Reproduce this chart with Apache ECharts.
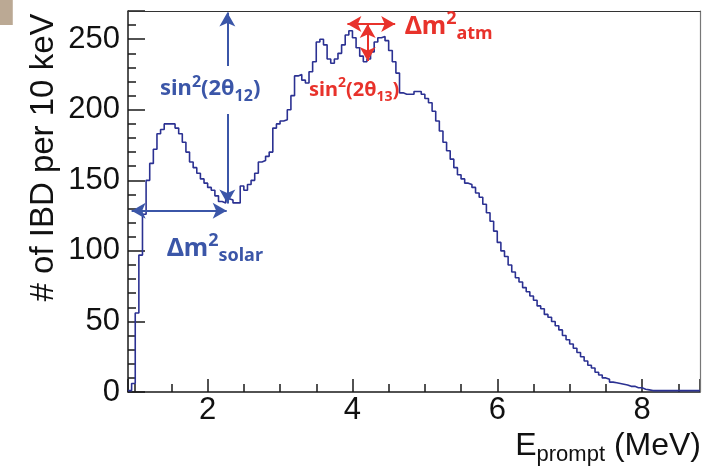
<!DOCTYPE html>
<html lang="en">
<head>
  <meta charset="UTF-8">
  <title>IBD prompt spectrum</title>
  <script src="https://cdn.jsdelivr.net/npm/echarts@6/dist/echarts.min.js"></script>
  <style>
    html, body { margin: 0; padding: 0; background: #fff; }
    .layer { position: absolute; left: 0; top: 0; width: 705px; height: 466px; }
  </style>
</head>
<body>
<div id="axes" class="layer"></div>
<div id="main" class="layer"></div>
<script>
  // histogram, 0.05 MeV bins from 0.9 MeV
  const binStart = 0.9;
  const binWidth = 0.05;
  const counts = [
    1, 6, 56, 97, 126, 150, 162, 172, 183, 186,
    190, 190, 190, 187, 183, 177, 170, 163, 159, 155,
    151, 148, 145, 143, 139, 135, 134, 137, 136, 134,
    134, 146, 143, 147, 150, 155, 163, 164, 167, 170,
    187, 190, 192, 193, 200, 210, 224, 225, 221, 219,
    227, 234, 248, 250, 246, 236, 233, 236, 240, 246,
    253, 256, 251, 244, 238, 234, 236, 241, 248, 251,
    252, 249, 242, 234, 226, 212, 211, 211, 211, 213,
    213, 211, 208, 205, 199, 192, 185, 177, 171, 165,
    159, 154, 151, 148, 147, 145, 141, 138, 133, 127,
    121, 114, 106, 100, 96, 90, 85, 81, 78, 74,
    71, 68, 65, 61, 59, 55, 53, 50, 47, 44,
    40, 37, 34, 31, 28, 25, 22, 19, 17, 14,
    12, 10, 9, 7, 6.5, 6, 5.5, 5, 4, 4,
    3, 3, 2, 1.5, 1, 1, 1, 1, 1, 1,
    1, 1, 1, 1, 1, 1, 1, 1
  ];
  const xRange = [0.9, 8.8];
  const yRange = [0, 270];

  // annotation arrows, in data units
  const solarVert = { x: 2.272, top: 269, gapTop: 231, gapBottom: 197, bottom: 133.5 };
  const solarHoriz = { y: 128.5, from: 0.95, to: 2.263 };
  const atmHoriz = { y: 260.8, from: 3.93, to: 4.59 };
  const atmVert = { x: 4.21, top: 260.8, bottom: 234.5 };

  const BLUE = '#3b56a8';
  const RED = '#e8322b';
  const CURVE = '#2b3192';
  const AXIS = '#1a1a1a';

  const gridBox = { left: 128, right: 5, top: 11, bottom: 74, outerBoundsMode: 'none' };

  const histData = counts.map((v, i) => [binStart + i * binWidth, v]);
  histData.push([binStart + counts.length * binWidth, counts[counts.length - 1]]);

  // ---- layer 1: axes, ticks and tick labels ----
  const axesChart = echarts.init(document.getElementById('axes'));
  axesChart.setOption({
    animation: false,
    grid: gridBox,
    xAxis: {
      type: 'value',
      min: xRange[0],
      max: xRange[1],
      splitNumber: 4,
      axisLine: { show: true, onZero: false, lineStyle: { color: AXIS, width: 1.5 } },
      axisTick: { show: true, inside: true, length: 13, lineStyle: { color: AXIS, width: 1.5 } },
      minorTick: { show: true, splitNumber: 4, length: 8, lineStyle: { color: AXIS, width: 1.5 } },
      splitLine: { show: false },
      axisLabel: { showMinLabel: false, showMaxLabel: false, margin: 3,
                   fontFamily: 'Liberation Sans', fontSize: 31, color: '#111' }
    },
    yAxis: {
      type: 'value',
      min: yRange[0],
      max: yRange[1],
      interval: 50,
      axisLine: { show: true, lineStyle: { color: AXIS, width: 1.5 } },
      axisTick: { show: true, inside: true, length: 17, lineStyle: { color: AXIS, width: 1.5 } },
      minorTick: { show: true, splitNumber: 5, length: 8, lineStyle: { color: AXIS, width: 1.5 } },
      splitLine: { show: false },
      axisLabel: { showMaxLabel: false, margin: 8,
                   fontFamily: 'Liberation Sans', fontSize: 31, color: '#111' }
    },
    series: [{ type: 'line', data: [] }]
  });

  // ---- layer 2: histogram, frame, names and annotations ----
  const chart = echarts.init(document.getElementById('main'));

  const arrowLine = (a, b, symA, symB, color) => [
    { coord: a, symbol: symA, lineStyle: { color: color, width: 2, type: 'solid' } },
    { coord: b, symbol: symB }
  ];

  // rich styles for the physics labels (super/subscripts)
  const richAnn = (size, color) => {
    const small = Math.round(size * 0.72);
    const base = { color: color, fontFamily: 'Noto Sans', fontWeight: 'bold' };
    return {
      n: Object.assign({ fontSize: size, lineHeight: size + 8 }, base),
      sp: Object.assign({ fontSize: small, verticalAlign: 'top', lineHeight: small + 2 }, base),
      sb: Object.assign({ fontSize: small, verticalAlign: 'bottom', lineHeight: small + 2 }, base)
    };
  };
  const label = (text, left, top, size, color) => ({
    text: text, left: left, top: top, padding: 0, itemGap: 0,
    textStyle: { fontWeight: 'normal', rich: richAnn(size, color) }
  });

  const hiddenAxis = (min, max) => ({
    type: 'value', min: min, max: max,
    axisLine: { show: false }, axisTick: { show: false }, axisLabel: { show: false }, splitLine: { show: false }
  });
  // plain frame lines on the top and right side
  const frameAxis = (min, max, position, color) => ({
    type: 'value', min: min, max: max, position: position,
    axisLine: { show: true, onZero: false, lineStyle: { color: color, width: 1.2 } },
    axisTick: { show: false }, axisLabel: { show: false }, splitLine: { show: false }
  });

  chart.setOption({
    animation: false,
    backgroundColor: 'transparent',
    title: [
      { text: ' ', left: 0, top: 0, padding: [0, 6, 0, 4], backgroundColor: '#bba994',
        textStyle: { fontSize: 10, lineHeight: 25 } },
      label('{n|sin}{sp|2}{n|(2θ}{sb|12}{n|)}', 160, 74, 22, BLUE),
      label('{n|Δm}{sp|2}{sb|solar}', 167, 232, 25, BLUE),
      label('{n|sin}{sp|2}{n|(2θ}{sb|13}{n|)}', 309, 76, 20, RED),
      label('{n|Δm}{sp|2}{sb|atm}', 405, 10, 25, RED),
      {
        text: '{e|E}{s|prompt}{e| (MeV)}', right: 4, top: 426, padding: 0,
        textStyle: {
          fontWeight: 'normal',
          rich: {
            e: { fontFamily: 'Liberation Sans', fontSize: 32, fontWeight: 'normal', color: '#111', lineHeight: 40 },
            s: { fontFamily: 'Liberation Sans', fontSize: 22, fontWeight: 'normal', color: '#111',
                 lineHeight: 22, verticalAlign: 'bottom' }
          }
        }
      }
    ],
    grid: gridBox,
    xAxis: [hiddenAxis(xRange[0], xRange[1]), frameAxis(xRange[0], xRange[1], 'top', '#333')],
    yAxis: [
      Object.assign(hiddenAxis(yRange[0], yRange[1]), {
        name: '# of IBD per 10 keV',
        nameLocation: 'middle',
        nameRotate: 90,
        nameGap: 68,
        nameTextStyle: { fontFamily: 'Liberation Sans', fontSize: 33, color: '#111', padding: [0, 0, 0, 88] }
      }),
      frameAxis(yRange[0], yRange[1], 'right', '#777')
    ],
    series: [{
      type: 'line',
      step: 'end',
      showSymbol: false,
      symbol: 'none',
      data: histData,
      lineStyle: { color: CURVE, width: 1.6 },
      markLine: {
        silent: true,
        symbolSize: [12, 14],
        label: { show: false },
        emphasis: { disabled: true },
        data: [
          arrowLine([solarVert.x, solarVert.top], [solarVert.x, solarVert.gapTop], 'arrow', 'none', BLUE),
          arrowLine([solarVert.x, solarVert.gapBottom], [solarVert.x, solarVert.bottom], 'none', 'arrow', BLUE),
          arrowLine([solarHoriz.from, solarHoriz.y], [solarHoriz.to, solarHoriz.y], 'arrow', 'arrow', BLUE),
          arrowLine([atmHoriz.from, atmHoriz.y], [atmHoriz.to, atmHoriz.y], 'arrow', 'arrow', RED),
          arrowLine([atmVert.x, atmVert.top], [atmVert.x, atmVert.bottom], 'arrow', 'arrow', RED)
        ]
      }
    }]
  });
</script>
</body>
</html>
